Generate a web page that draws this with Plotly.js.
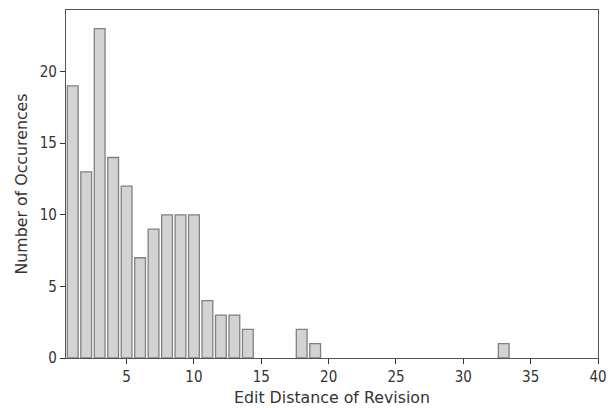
<!DOCTYPE html>
<html>
<head>
<meta charset="utf-8">
<script src="https://cdn.plot.ly/plotly-3.0.1.min.js"></script>
<style>html,body{margin:0;padding:0;background:#fff;}#chart{width:608px;height:408px;}</style>
</head>
<body>
<div id="chart"></div>
<script>
const editDistance = [1, 2, 3, 4, 5, 6, 7, 8, 9, 10, 11, 12, 13, 14, 18, 19, 33];
const occurrences = [19, 13, 23, 14, 12, 7, 9, 10, 10, 10, 4, 3, 3, 2, 2, 1, 1];
const xTicks = [5, 10, 15, 20, 25, 30, 35, 40];
const yTicks = [0, 5, 10, 15, 20];

const trace = {
  type: 'bar',
  x: editDistance,
  y: occurrences,
  width: 0.8,
  marker: {color: '#d3d3d3', line: {color: '#808080', width: 1.3}},
  hoverinfo: 'x+y'
};

const font = {family: 'DejaVu Sans, sans-serif', size: 15.8, color: '#333'};
const tickFont = {family: 'DejaVu Sans Condensed, DejaVu Sans, sans-serif', size: 15, color: '#333'};
const layout = {
  width: 608, height: 408,
  margin: {l: 66, r: 10, t: 10, b: 50},
  paper_bgcolor: '#fff', plot_bgcolor: '#fff',
  font: font,
  showlegend: false,
  bargap: 0,
  xaxis: {
    range: [0.5, 40],
    tickvals: xTicks,
    ticklabeloverflow: 'allow',
    ticks: 'outside', ticklen: 5, tickwidth: 1, tickcolor: '#333',
    showgrid: false, zeroline: false,
    showline: true, linecolor: '#555', linewidth: 1.2, mirror: true,
    title: {text: 'Edit Distance of Revision', font: font, standoff: 6},
    tickfont: tickFont
  },
  yaxis: {
    range: [0, 24.3],
    tickvals: yTicks,
    ticks: 'outside', ticklen: 5, tickwidth: 1, tickcolor: '#333',
    showgrid: false, zeroline: false,
    showline: true, linecolor: '#555', linewidth: 1.2, mirror: true,
    title: {text: 'Number of Occurences', font: font, standoff: 8},
    tickfont: tickFont
  }
};

Plotly.newPlot('chart', [trace], layout, {displayModeBar: false, staticPlot: true});
</script>
</body>
</html>
